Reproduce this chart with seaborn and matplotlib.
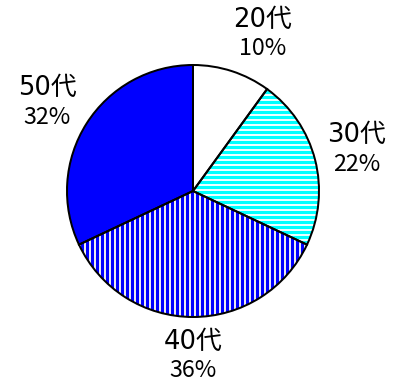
import matplotlib
matplotlib.use("Agg")
import matplotlib.pyplot as plt
import numpy as np
import seaborn as sns

# data
ages = ["20代", "30代", "40代", "50代"]
shares = [10, 22, 36, 32]
face_colors = ["#FFFFFF", "#FFFFFF", "#FFFFEE", "#0000FF"]
hatch_colors = ["#FFFFFF", "#00FFFF", "#0000FF", "#0000FF"]
hatches = ["", "----", "||||", ""]

sns.set_theme(style="white")
plt.rcParams["font.family"] = ["Noto Sans CJK JP", "DejaVu Sans"]
plt.rcParams["hatch.linewidth"] = 1.9

fig = plt.figure(figsize=(401 / 120, 383 / 120), dpi=120)
ax = fig.add_axes([0, 0, 1, 1])

# fill + hatch layer
fill, _ = ax.pie(shares, startangle=90, counterclock=False, radius=1,
                 wedgeprops=dict(linewidth=0))
for w, fc, hc, h in zip(fill, face_colors, hatch_colors, hatches):
    w.set_facecolor(fc)
    w.set_edgecolor(hc)
    w.set_hatch(h)

# black outline layer
outline, _ = ax.pie(shares, startangle=90, counterclock=False, radius=1,
                    colors=["none"] * len(shares),
                    wedgeprops=dict(edgecolor="black", linewidth=1.2))

# labels sit just outside the rim, pushed out by roughly half their size
for w, age, pct in zip(outline, ages, shares):
    mid = np.deg2rad((w.theta1 + w.theta2) / 2)
    c, s = np.cos(mid), np.sin(mid)
    x = 1.1 * c + 0.23 * np.clip(3 * c, -1, 1)
    y = 1.31 * s
    ax.text(x, y + 0.115, age, ha="center", va="center", fontsize=15.5,
            family=["DejaVu Sans", "Noto Sans CJK JP"], color="black")
    ax.text(x, y - 0.115, f"{pct}%", ha="center", va="center", fontsize=14,
            family=["Liberation Sans Narrow", "Noto Sans CJK JP"], color="black")

ax.set_xlim(-193 / 126, (401 - 193) / 126)
ax.set_ylim(-(383 - 191) / 126, 191 / 126)
ax.set_aspect("equal")
ax.axis("off")

fig.savefig("out.png", dpi=120)
